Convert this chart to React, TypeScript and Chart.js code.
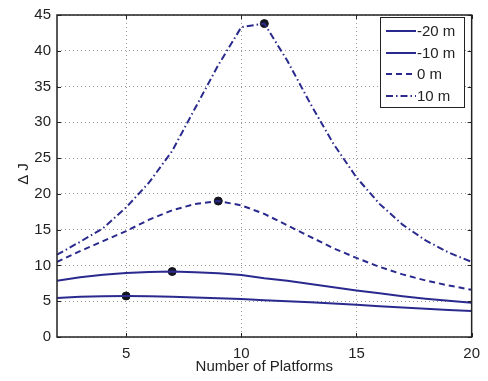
import React, { useEffect, useRef } from "react";
import { Chart, registerables } from "chart.js";

Chart.register(...registerables);

const platforms = [2, 3, 4, 5, 6, 7, 8, 9, 10, 11, 12, 13, 14, 15, 16, 17, 18, 19, 20];
const seriesMinus20 = [5.45, 5.62, 5.7, 5.73, 5.7, 5.62, 5.52, 5.42, 5.3, 5.15, 5.0, 4.85, 4.68, 4.5, 4.3, 4.12, 3.95, 3.78, 3.62];
const seriesMinus10 = [7.85, 8.35, 8.7, 8.95, 9.1, 9.15, 9.05, 8.9, 8.65, 8.2, 7.85, 7.4, 6.95, 6.5, 6.1, 5.7, 5.35, 5.05, 4.8];
const seriesZero = [10.5, 12.0, 13.4, 14.8, 16.4, 17.7, 18.6, 19.0, 18.4, 17.2, 15.6, 14.0, 12.4, 11.05, 9.8, 8.75, 7.9, 7.2, 6.6];
const seriesPlus10 = [11.5, 13.3, 15.2, 18.1, 21.6, 26.0, 32.0, 38.0, 43.3, 43.8, 38.6, 32.6, 27.0, 22.3, 18.6, 15.7, 13.5, 11.8, 10.5];
const peakX = [5, 7, 9, 11];
const peakY = [5.73, 9.15, 19.0, 43.8];
const xTicks = [5, 10, 15, 20];
const yTicks = [0, 5, 10, 15, 20, 25, 30, 35, 40, 45];
const legendLabels = ["-20 m", "-10 m", "0 m", "10 m"];

const NAVY = "#2a2a8e";
const FONT = "'Liberation Sans', Arial, Helvetica, sans-serif";
const dashes: number[][] = [[], [], [6, 4], [7, 3, 1.5, 3]];

const toPts = (ys: number[]) => ys.map((y, i) => ({ x: platforms[i], y }));

const framePlugin = {
  id: "matlabFrame",
  afterDatasetsDraw(chart: any) {
    const { ctx, chartArea: a, scales } = chart;
    ctx.save();
    ctx.strokeStyle = "#222";
    ctx.lineWidth = 1;
    // inner tick marks
    const tl = 4;
    ctx.beginPath();
    xTicks.forEach((t) => {
      const px = Math.round(scales.x.getPixelForValue(t)) + 0.5;
      ctx.moveTo(px, a.bottom);
      ctx.lineTo(px, a.bottom - tl);
      ctx.moveTo(px, a.top);
      ctx.lineTo(px, a.top + tl);
    });
    yTicks.forEach((t) => {
      const py = Math.round(scales.y.getPixelForValue(t)) + 0.5;
      ctx.moveTo(a.left, py);
      ctx.lineTo(a.left + tl, py);
      ctx.moveTo(a.right, py);
      ctx.lineTo(a.right - tl, py);
    });
    ctx.stroke();
    ctx.lineWidth = 1.5;
    ctx.strokeRect(a.left, a.top, a.right - a.left, a.bottom - a.top);
    ctx.restore();
  },
  afterDraw(chart: any) {
    const { ctx, chartArea: a } = chart;
    ctx.save();
    // axis titles
    ctx.fillStyle = "#222";
    ctx.font = `15px ${FONT}`;
    ctx.textAlign = "center";
    ctx.textBaseline = "alphabetic";
    ctx.fillText("Number of Platforms", (a.left + a.right) / 2, 371);
    ctx.save();
    ctx.translate(28, 174);
    ctx.rotate(-Math.PI / 2);
    ctx.fillText("\u0394 J", 0, 0);
    ctx.restore();
    // legend
    const lx = 380, ly = 17, lw = 84, lh = 90;
    ctx.fillStyle = "#fff";
    ctx.fillRect(lx, ly, lw, lh);
    ctx.strokeStyle = "#222";
    ctx.lineWidth = 1;
    ctx.strokeRect(lx + 0.5, ly + 0.5, lw, lh);
    const rows = [31, 53, 74, 96];
    legendLabels.forEach((lab, i) => {
      ctx.strokeStyle = NAVY;
      ctx.lineWidth = 2;
      ctx.setLineDash(dashes[i]);
      ctx.beginPath();
      ctx.moveTo(386, rows[i]);
      ctx.lineTo(416, rows[i]);
      ctx.stroke();
      ctx.setLineDash([]);
      ctx.fillStyle = "#222";
      ctx.textAlign = "left";
      ctx.textBaseline = "middle";
      ctx.font = `15px ${FONT}`;
      ctx.fillText(lab, 417, rows[i] + 1);
    });
    ctx.restore();
  },
};

export default function App() {
  const ref = useRef<HTMLCanvasElement | null>(null);
  useEffect(() => {
    document.body.style.margin = "0";
    if (!ref.current) return;
    const series = [seriesMinus20, seriesMinus10, seriesZero, seriesPlus10];
    const datasets: any[] = series.map((s, i) => ({
      type: "line",
      label: legendLabels[i],
      data: toPts(s),
      borderColor: NAVY,
      borderWidth: 2,
      borderDash: dashes[i],
      pointRadius: 0,
      tension: 0,
      fill: false,
    }));
    datasets.push({
      type: "scatter",
      label: "peaks",
      data: peakX.map((x, i) => ({ x, y: peakY[i] })),
      backgroundColor: "#151520",
      borderColor: "#151520",
      pointRadius: 4,
      showLine: false,
    });
    const chart = new Chart(ref.current, {
      type: "line",
      data: { datasets },
      options: {
        animation: false,
        responsive: false,
        maintainAspectRatio: false,
        layout: { padding: { top: 10, right: 15, left: 0, bottom: 0 } },
        plugins: { legend: { display: false }, tooltip: { enabled: false } },
        scales: {
          x: {
            type: "linear",
            min: 2,
            max: 20,
            afterBuildTicks: (s: any) => {
              s.ticks = xTicks.map((v) => ({ value: v }));
            },
            afterFit: (s: any) => {
              s.height = 44;
            },
            grid: { color: "#9a9a9a", lineWidth: 1, drawTicks: false, tickBorderDash: [1, 3] } as any,
            border: { display: false, dash: [1, 3] } as any,
            ticks: { color: "#222", font: { family: FONT, size: 15 }, padding: 8, maxRotation: 0 },
          },
          y: {
            type: "linear",
            min: 0,
            max: 45,
            afterBuildTicks: (s: any) => {
              s.ticks = yTicks.map((v) => ({ value: v }));
            },
            afterFit: (s: any) => {
              s.width = 57;
            },
            grid: { color: "#9a9a9a", lineWidth: 1, drawTicks: false },
            border: { display: false, dash: [1, 3] } as any,
            ticks: { color: "#222", font: { family: FONT, size: 15 }, padding: 6 },
          },
        },
      } as any,
      plugins: [framePlugin],
    });
    return () => chart.destroy();
  }, []);
  return (
    <div style={{ width: 488, height: 381, background: "#fff" }}>
      <canvas ref={ref} width={488} height={381} style={{ display: "block" }} />
    </div>
  );
}
